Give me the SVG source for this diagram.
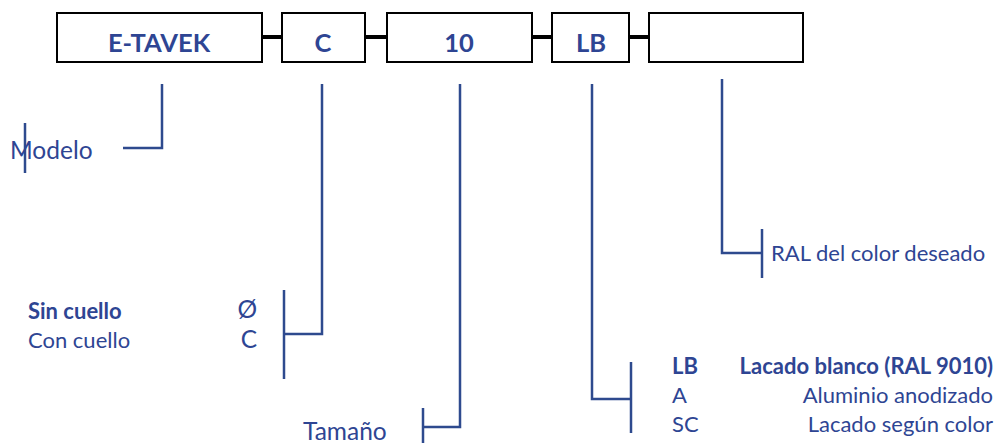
<svg xmlns="http://www.w3.org/2000/svg" width="1000" height="443" viewBox="0 0 1000 443">
<style>
.box{fill:#fff;stroke:#000;stroke-width:2}
.join{stroke:#000;stroke-width:4}
.ln{stroke:#2E4A8E;stroke-width:2.5;fill:none}
.t{font-family:Lato,"Open Sans",sans-serif;fill:#2E4593;font-size:22px}
.l{font-size:24.5px}
.b{font-weight:bold}
.bt{font-family:Lato,"Open Sans",sans-serif;fill:#2E4593;font-size:25.5px;font-weight:bold;text-anchor:middle}
</style>
<rect width="1000" height="443" fill="#fff"/>
<g id="connectors">
<line class="join" x1="262" y1="37" x2="282" y2="37"/>
<line class="join" x1="365" y1="37" x2="387" y2="37"/>
<line class="join" x1="532" y1="37" x2="552" y2="37"/>
<line class="join" x1="629" y1="37" x2="649" y2="37"/>
<polyline class="ln" points="162,84 162,148 123,148"/>
<line class="ln" x1="25" y1="123" x2="25" y2="173"/>
<polyline class="ln" points="322,84 322,334 284,334"/>
<line class="ln" x1="284" y1="290" x2="284" y2="379"/>
<polyline class="ln" points="460,84 460,427 423,427"/>
<line class="ln" x1="423" y1="408" x2="423" y2="443"/>
<polyline class="ln" points="592,84 592,399 631,399"/>
<line class="ln" x1="631" y1="362" x2="631" y2="433"/>
<polyline class="ln" points="722,79 722,253 762,253"/>
<line class="ln" x1="762" y1="229" x2="762" y2="278"/>
</g>
<g id="box-etavek"><rect class="box" x="57" y="13" width="205" height="49"/><text class="bt" x="159" y="52">E-TAVEK</text></g>
<g id="box-c"><rect class="box" x="282" y="13" width="83" height="49"/><text class="bt" x="323" y="52">C</text></g>
<g id="box-10"><rect class="box" x="387" y="13" width="145" height="49"/><text class="bt" x="459" y="52">10</text></g>
<g id="box-lb"><rect class="box" x="552" y="13" width="77" height="49"/><text class="bt" x="591" y="52">LB</text></g>
<g id="box-empty"><rect class="box" x="649" y="13" width="154" height="49"/></g>
<g id="label-modelo"><text class="t l" x="10" y="159">Modelo</text></g>
<g id="label-cuello">
<text class="t b" x="28" y="319">Sin cuello</text>
<text class="t" x="28" y="348">Con cuello</text>
<text class="t l" x="257" y="318" text-anchor="end">Ø</text>
<text class="t l" x="257" y="348" text-anchor="end">C</text>
</g>
<g id="label-tamano"><text class="t l" x="303" y="440">Tamaño</text></g>
<g id="label-acabado">
<text class="t b" x="672" y="374">LB</text>
<text class="t" x="672" y="403">A</text>
<text class="t" x="672" y="432">SC</text>
<text class="t b" x="993" y="374" text-anchor="end">Lacado blanco (RAL 9010)</text>
<text class="t" x="993" y="403" text-anchor="end">Aluminio anodizado</text>
<text class="t" x="993" y="432" text-anchor="end">Lacado según color</text>
</g>
<g id="label-ral"><text class="t" x="771" y="261">RAL del color deseado</text></g>
</svg>
